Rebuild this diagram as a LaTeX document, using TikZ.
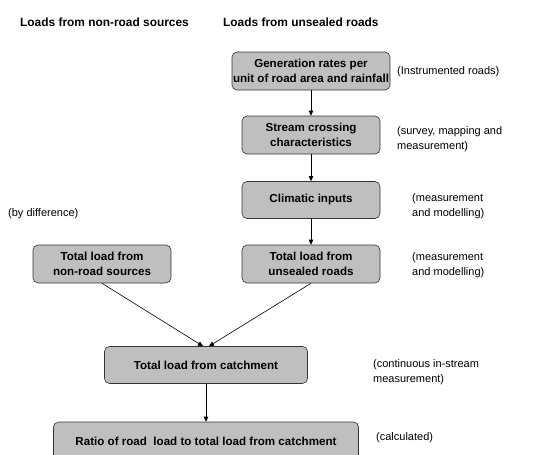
\documentclass[tikz,border=0pt]{standalone}
\usepackage{fontspec}
\setmainfont{Liberation Sans}
\usetikzlibrary{arrows.meta}
\begin{document}
\begin{tikzpicture}[x=1pt,y=-1pt]
    \tikzstyle{box}=[draw=black!80, fill=black!25, rounded corners=5pt, line width=0.6pt,
        inner sep=0pt, minimum height=38pt, align=center,
        font=\fontsize{11.6}{15.5}\selectfont\bfseries];
    \tikzstyle{note}=[anchor=west, inner sep=0pt, align=left,
        font=\fontsize{11}{15.5}\selectfont];
    \tikzstyle{head}=[anchor=west, inner sep=0pt, font=\fontsize{11.9}{14}\selectfont\bfseries];
    \tikzstyle{link}=[-{Triangle[length=5pt,width=4.5pt]}, line width=0.6pt, black];
    \useasboundingbox (0,0) rectangle (550,455);
    \clip (0,0) rectangle (550,455);
    % column titles
    \node[head] (h1) at (20,22) {Loads from non-road sources};
    \node[head] (h2) at (223,22) {Loads from unsealed roads};
    % boxes
    \node[box, minimum width=158pt] (gen) at (311,71) {Generation rates per\\unit of road area and rainfall};
    \node[box, minimum width=138pt] (cross) at (311,135) {Stream crossing\\characteristics};
    \node[box, minimum width=138pt, minimum height=37pt] (clim) at (311,200) {Climatic inputs};
    \node[box, minimum width=138pt] (nonroad) at (102,264) {Total load from\\non-road sources};
    \node[box, minimum width=138pt] (road) at (311,264) {Total load from\\unsealed roads};
    \node[box, minimum width=203pt, minimum height=37pt] (catch) at (206,365) {Total load from catchment};
    \node[box, minimum width=305pt] (ratio) at (206,441) {Ratio of road\ \ load to total load from catchment};
    % notes
    \node[note] (n1) at (397,72) {(Instrumented roads)};
    \node[note] (n2) at (397,139) {(survey, mapping and\\measurement)};
    \node[note] (n3) at (412,206) {(measurement\\and modelling)};
    \node[note] (n4) at (8,214) {(by difference)};
    \node[note] (n5) at (412,265) {(measurement\\and modelling)};
    \node[note] (n6) at (373,372) {(continuous in-stream\\measurement)};
    \node[note] (n7) at (376,438) {(calculated)};
    % connectors
    \draw[link] (gen) -- (cross);
    \draw[link] (cross) -- (clim);
    \draw[link] (clim) -- (road);
    \draw[link] (nonroad.south) -- ([xshift=-3pt]catch.north);
    \draw[link] (road.south) -- ([xshift=3pt]catch.north);
    \draw[link] (catch) -- (ratio);
\end{tikzpicture}
\end{document}
